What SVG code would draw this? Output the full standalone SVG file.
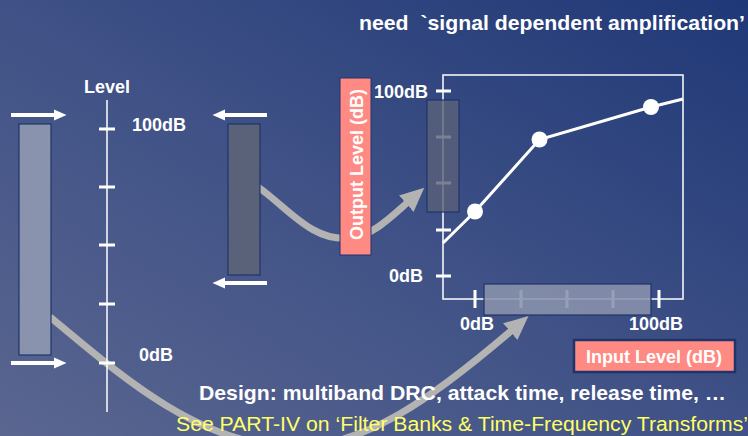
<svg xmlns="http://www.w3.org/2000/svg" width="748" height="436" viewBox="0 0 748 436">
<defs>
<linearGradient id="bg" x1="0" y1="1" x2="1" y2="0">
<stop offset="0" stop-color="#5a6690"/>
<stop offset="0.5" stop-color="#3f5186"/>
<stop offset="1" stop-color="#1f3877"/>
</linearGradient>
<marker id="wh" markerUnits="userSpaceOnUse" markerWidth="13" markerHeight="12" viewBox="0 0 13 12" refX="1" refY="6" orient="auto">
<path d="M0,0.5 L12.5,6 L0,11.5 Z" fill="#fff"/>
</marker>
<marker id="gr" markerUnits="userSpaceOnUse" markerWidth="26" markerHeight="24" viewBox="0 0 26 24" refX="1" refY="12" orient="auto">
<path d="M0,1 L24,12 L0,23 Z" fill="#b3b3b3"/>
</marker>
</defs>
<style>
text{font-family:"Liberation Sans",Arial,sans-serif;font-weight:bold;fill:#fff}
.lbl{font-size:18px}
.bar{stroke:#1f3468;stroke-width:1.2}
.tick{stroke:#fff;stroke-width:3}
.axis{stroke:#fff;stroke-width:1.5;fill:none}
.warr{stroke:#fff;stroke-width:4;fill:none;marker-end:url(#wh)}
.garr{stroke:#b3b3b3;stroke-width:7;fill:none;marker-end:url(#gr)}
.red{fill:#ff8a84;stroke:#1f3468}
</style>
<rect width="748" height="436" fill="url(#bg)"/>

<text x="359" y="30" font-size="21" textLength="386" lengthAdjust="spacingAndGlyphs">need &#160;`signal dependent amplification’</text>

<g id="connectors">
<path class="garr" d="M50,317 C110,366 190,440 280,446 C360,455 442,390 511,331"/>
<path class="garr" d="M258,187 C288,208 312,242 350,238 C372,236 390,218 407,203"/>
</g>

<g id="input-bar">
<rect class="bar" x="19" y="124" width="32" height="231" fill="#8a93ad"/>
<path class="warr" d="M11,115 H55"/>
<path class="warr" d="M11,363 H55"/>
</g>

<g id="level-axis">
<line class="axis" x1="107" y1="100" x2="107" y2="412"/>
<path class="tick" d="M99,129 H115 M99,187 H115 M99,245 H115 M99,304 H115 M99,363 H115"/>
<text class="lbl" x="107" y="93" text-anchor="middle">Level</text>
<text class="lbl" x="132" y="131">100dB</text>
<text class="lbl" x="139" y="361">0dB</text>
</g>

<g id="output-bar">
<rect class="bar" x="228" y="124" width="32" height="151" fill="#5a6279"/>
<path class="warr" d="M267,115 H224"/>
<path class="warr" d="M267,283 H224"/>
</g>

<g id="output-label">
<rect class="red" x="340" y="78" width="31" height="177" stroke-width="1"/>
<text class="lbl" transform="translate(362.5,164.5) rotate(-90)" text-anchor="middle">Output Level (dB)</text>
</g>

<g id="chart">
<rect class="axis" x="443" y="75" width="240" height="224"/>
<path class="tick" d="M436,91 H451 M436,137 H451 M436,183 H451 M436,230 H451 M436,276 H451"/>
<path class="tick" d="M475,290 V308 M521,290 V308 M567,290 V308 M613,290 V308 M659,290 V308"/>
<rect x="427" y="100" width="32" height="112" fill="#5a6279" fill-opacity="0.8" stroke="#1f3468" stroke-width="1.2"/>
<rect x="484" y="284" width="167" height="31" fill="#8a93ad" fill-opacity="0.88" stroke="#1f3468" stroke-width="1.2"/>
<polyline points="443,243 475,211.5 539.5,139.5 651,107 683,99" fill="none" stroke="#fff" stroke-width="3"/>
<circle cx="475" cy="211.5" r="8" fill="#fff"/>
<circle cx="539.5" cy="139.5" r="8" fill="#fff"/>
<circle cx="651" cy="107" r="8" fill="#fff"/>
<text class="lbl" x="428" y="98" text-anchor="end">100dB</text>
<text class="lbl" x="423" y="282" text-anchor="end">0dB</text>
<text class="lbl" x="477" y="330" text-anchor="middle">0dB</text>
<text class="lbl" x="656" y="330" text-anchor="middle">100dB</text>
</g>

<g id="input-label">
<rect class="red" x="574" y="340" width="161" height="32" stroke-width="2.5"/>
<text class="lbl" x="654" y="363" text-anchor="middle">Input Level (dB)</text>
</g>

<text x="199" y="400" font-size="20.5" textLength="527" lengthAdjust="spacingAndGlyphs">Design: multiband DRC, attack time, release time, …</text>
<text x="176" y="431" font-size="19.5" style="font-weight:normal;fill:#ffff66" textLength="572" lengthAdjust="spacingAndGlyphs">See PART-IV on ‘Filter Banks &amp; Time-Frequency Transforms’</text>
</svg>
